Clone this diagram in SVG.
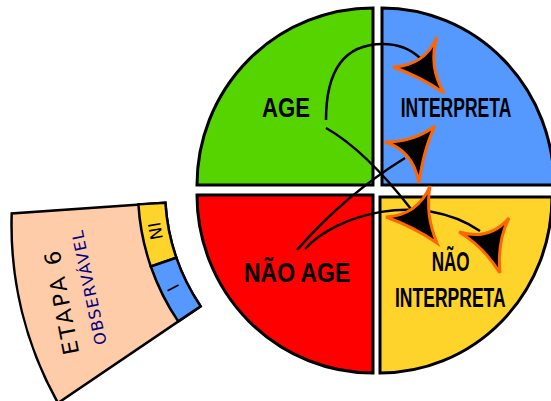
<svg xmlns="http://www.w3.org/2000/svg" width="551" height="401" viewBox="0 0 551 401">
<style>
.q{stroke:#000;stroke-width:3;stroke-linejoin:miter}
.lbl{font-family:"Liberation Sans",Arial,sans-serif;font-weight:bold;font-size:27px;fill:#000}
.conn{fill:none;stroke:#000;stroke-width:2.5}
.arrow{fill:#000;stroke:#FF6600;stroke-width:3;stroke-linejoin:miter}
.pan{stroke:#000;stroke-width:2.5}
.small{font-family:"DejaVu Sans","Liberation Sans",sans-serif;fill:#000}
</style>
<rect width="551" height="401" fill="#fff"/>
<g id="age">
<path class="q" fill="#55D400" d="M373,185 L197,185 A176,177 0 0 1 373,8 Z"/>
<text class="lbl" transform="translate(262,117) scale(0.82,1)">AGE</text>
</g>
<g id="interpreta">
<path class="q" fill="#5599FF" d="M382,185 L382,8 A172,177 0 0 1 554,185 Z"/>
<text class="lbl" transform="translate(400.7,117) scale(0.649,1)">INTERPRETA</text>
</g>
<g id="nao-interpreta">
<path class="q" fill="#FFD42A" d="M380,197 L552,197 A172,176 0 0 1 380,373 Z"/>
<text class="lbl" transform="translate(431.7,270.7) scale(0.633,1)">NÃO</text>
<text class="lbl" transform="translate(395,307) scale(0.649,1)">INTERPRETA</text>
</g>
<g id="nao-age">
<path class="q" fill="#FF0000" d="M373,195 L373,373 A176,178 0 0 1 197,195 Z"/>
<text class="lbl" transform="translate(244,282) scale(0.85,1)">NÃO AGE</text>
</g>
<g id="etapa6">
<path class="pan" fill="#FFCCAA" d="M165.4,202.7 L11.7,213.5 A365,365 0 0 0 58,403 L200.6,306.3 A208,208 0 0 1 165.4,202.7 Z"/>
<path class="pan" fill="#FFD42A" d="M165.4,202.7 L138.4,204.3 A235,235 0 0 0 150.8,266.5 L176.3,257.7 A208,208 0 0 1 165.4,202.7 Z"/>
<path class="pan" fill="#5599FF" d="M176.3,257.7 L150.8,266.5 A235,235 0 0 0 178.2,321.4 L200.6,306.3 A208,208 0 0 1 176.3,257.7 Z"/>
<text class="small" font-size="22" letter-spacing="2.8" text-anchor="middle" transform="translate(69,300) rotate(-101)">ETAPA 6</text>
<text class="small" font-size="16" letter-spacing="1.4" style="fill:#000080" text-anchor="middle" transform="translate(94.5,286) rotate(-102)">OBSERVÁVEL</text>
<text class="small" font-size="17" text-anchor="middle" transform="translate(161.5,230) rotate(-100)">NI</text>
<text class="small" font-size="17" text-anchor="middle" transform="translate(178.5,285) rotate(-117)">I</text>
</g>
<g id="connectors">
<path class="conn" d="M326,120 Q326,44 383,44 Q405,44 420,58"/>
<path class="conn" d="M326,128 Q365,150 411,209"/>
<path class="conn" d="M297,250 Q345,195 405,158"/>
<path class="conn" d="M305,249 C335,215 420,190 480,231"/>
<path class="arrow" d="M437,37 Q424.7,65.7 393,67 Q421,77 444,93 Q428,66 437,37 Z"/>
<path class="arrow" d="M385,142 Q413,150.3 419,183 Q424,148 435,126 Q414,142 385,142 Z"/>
<path class="arrow" d="M430,186 Q417.7,215.3 386,217 Q414,227 437,243 Q425,215 430,186 Z"/>
<path class="arrow" d="M509,218 Q489.3,241 459,232 Q483,246 500,273 Q497,242 509,218 Z"/>
</g>
</svg>
